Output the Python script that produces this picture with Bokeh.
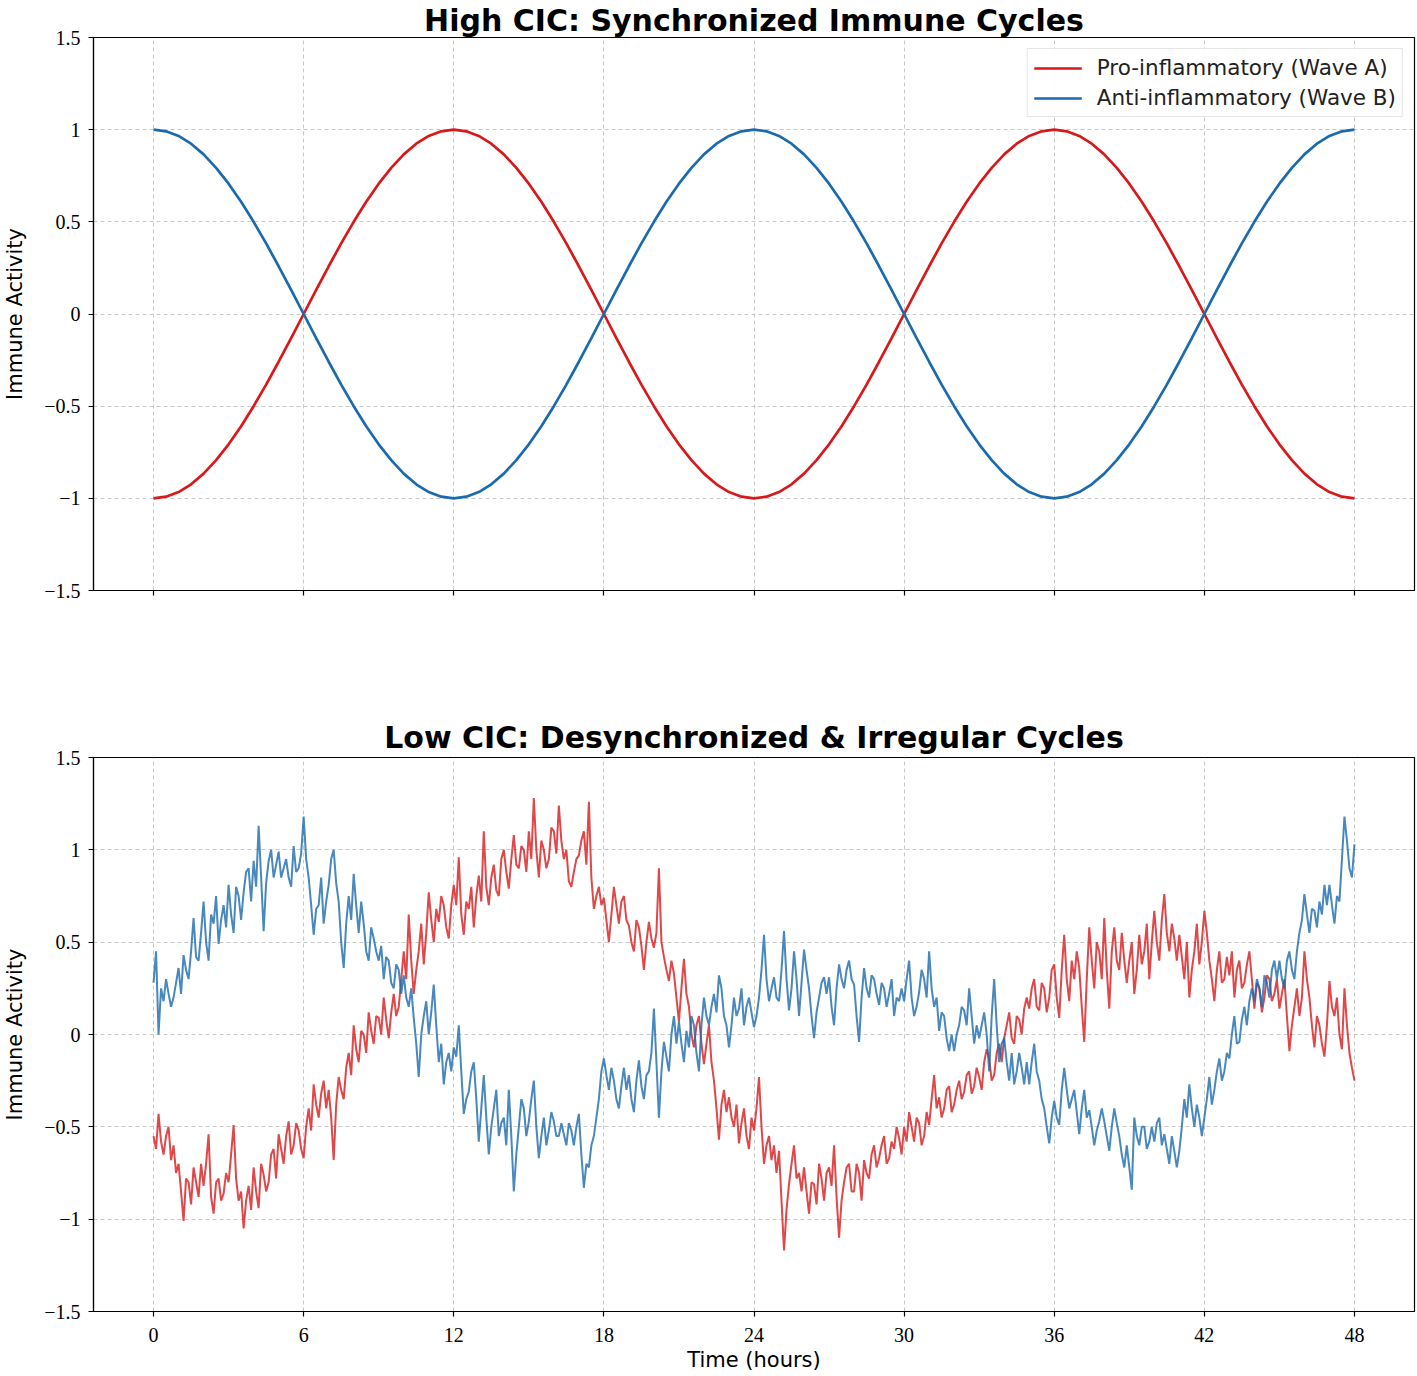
import numpy as np
from bokeh.plotting import figure
from bokeh.layouts import column
from bokeh.models import FixedTicker, Range1d, Legend, LegendItem
from bokeh.embed import file_html
from bokeh.resources import INLINE

# ---------------- data ----------------
x_ticks = [0, 6, 12, 18, 24, 30, 36, 42, 48]
y_ticks = [-1.5, -1.0, -0.5, 0.0, 0.5, 1.0, 1.5]
y_tick_labels = {-1.5: "\u22121.5", -1.0: "\u22121", -0.5: "\u22120.5", 0.0: "0",
                 0.5: "0.5", 1.0: "1", 1.5: "1.5"}

title_top = "High CIC: Synchronized Immune Cycles"
title_bottom = "Low CIC: Desynchronized & Irregular Cycles"
label_a = "Pro-inflammatory (Wave A)"
label_b = "Anti-inflammatory (Wave B)"

# top panel: values every 0.5 h from 0 to 48 h
hours_smooth = np.linspace(0, 48, 97)
wave_a_sync = [
    -1.0, -0.991, -0.966, -0.924, -0.866, -0.793, -0.707, -0.609, -0.5, -0.383, -0.259, -0.131,
    0.0, 0.131, 0.259, 0.383, 0.5, 0.609, 0.707, 0.793, 0.866, 0.924, 0.966, 0.991,
    1.0, 0.991, 0.966, 0.924, 0.866, 0.793, 0.707, 0.609, 0.5, 0.383, 0.259, 0.131,
    0.0, -0.131, -0.259, -0.383, -0.5, -0.609, -0.707, -0.793, -0.866, -0.924, -0.966, -0.991,
    -1.0, -0.991, -0.966, -0.924, -0.866, -0.793, -0.707, -0.609, -0.5, -0.383, -0.259, -0.131,
    0.0, 0.131, 0.259, 0.383, 0.5, 0.609, 0.707, 0.793, 0.866, 0.924, 0.966, 0.991,
    1.0, 0.991, 0.966, 0.924, 0.866, 0.793, 0.707, 0.609, 0.5, 0.383, 0.259, 0.131,
    0.0, -0.131, -0.259, -0.383, -0.5, -0.609, -0.707, -0.793, -0.866, -0.924, -0.966, -0.991,
    -1.0,
]
wave_b_sync = [
    1.0, 0.991, 0.966, 0.924, 0.866, 0.793, 0.707, 0.609, 0.5, 0.383, 0.259, 0.131,
    0.0, -0.131, -0.259, -0.383, -0.5, -0.609, -0.707, -0.793, -0.866, -0.924, -0.966, -0.991,
    -1.0, -0.991, -0.966, -0.924, -0.866, -0.793, -0.707, -0.609, -0.5, -0.383, -0.259, -0.131,
    0.0, 0.131, 0.259, 0.383, 0.5, 0.609, 0.707, 0.793, 0.866, 0.924, 0.966, 0.991,
    1.0, 0.991, 0.966, 0.924, 0.866, 0.793, 0.707, 0.609, 0.5, 0.383, 0.259, 0.131,
    0.0, -0.131, -0.259, -0.383, -0.5, -0.609, -0.707, -0.793, -0.866, -0.924, -0.966, -0.991,
    -1.0, -0.991, -0.966, -0.924, -0.866, -0.793, -0.707, -0.609, -0.5, -0.383, -0.259, -0.131,
    0.0, 0.131, 0.259, 0.383, 0.5, 0.609, 0.707, 0.793, 0.866, 0.924, 0.966, 0.991,
    1.0,
]

# bottom panel: values every 0.1 h from 0 to 48 h (one row per hour)
hours_noisy = np.linspace(0, 48, 481)
wave_a_noisy = [
    -0.55, -0.62, -0.43, -0.58, -0.65, -0.55, -0.50, -0.68, -0.60, -0.75,
    -0.70, -0.85, -1.01, -0.78, -0.80, -0.92, -0.72, -0.80, -0.88, -0.70,
    -0.82, -0.70, -0.54, -0.88, -0.97, -0.80, -0.78, -0.90, -0.86, -0.75,
    -0.80, -0.65, -0.49, -0.78, -0.90, -0.85, -1.05, -0.90, -0.82, -0.95,
    -0.72, -0.85, -0.94, -0.70, -0.76, -0.85, -0.80, -0.65, -0.62, -0.78,
    -0.54, -0.62, -0.70, -0.55, -0.47, -0.65, -0.60, -0.48, -0.52, -0.62,
    -0.67, -0.50, -0.40, -0.52, -0.27, -0.38, -0.45, -0.32, -0.25, -0.40,
    -0.30, -0.45, -0.68, -0.38, -0.23, -0.30, -0.35, -0.18, -0.10, -0.22,
    0.05, -0.08, -0.15, 0.02, 0.00, -0.10, 0.12, 0.02, -0.05, 0.10,
    0.09, 0.00, 0.20, 0.08, -0.02, 0.12, 0.22, 0.10, 0.15, 0.30,
    0.45, 0.30, 0.65, 0.40, 0.22, 0.35, 0.45, 0.60, 0.38, 0.55,
    0.77, 0.62, 0.50, 0.68, 0.61, 0.75, 0.70, 0.58, 0.52, 0.70,
    0.81, 0.70, 0.96, 0.65, 0.54, 0.72, 0.68, 0.80, 0.58, 0.75,
    0.86, 0.72, 1.10, 0.80, 0.70, 0.85, 0.92, 0.78, 0.75, 0.95,
    1.00, 0.88, 0.79, 0.95, 1.08, 0.92, 0.90, 1.02, 1.00, 0.88,
    1.10, 0.95, 1.28, 1.00, 0.85, 1.05, 1.00, 0.90, 0.95, 1.12,
    1.10, 0.98, 1.24, 1.05, 0.95, 1.00, 0.83, 0.80, 0.88, 0.95,
    0.97, 1.05, 1.10, 0.92, 1.26, 0.85, 0.68, 0.75, 0.80, 0.70,
    0.74, 0.62, 0.50, 0.65, 0.80, 0.70, 0.60, 0.72, 0.75, 0.62,
    0.59, 0.50, 0.45, 0.62, 0.58, 0.48, 0.35, 0.50, 0.61, 0.52,
    0.47, 0.55, 0.90, 0.50, 0.42, 0.35, 0.29, 0.40, 0.33, 0.20,
    0.07, 0.25, 0.41, 0.22, 0.15, 0.00, -0.07, 0.05, 0.10, -0.05,
    -0.16, -0.05, 0.05, -0.15, -0.25, -0.40, -0.57, -0.38, -0.30, -0.42,
    -0.34, -0.45, -0.50, -0.38, -0.59, -0.48, -0.40, -0.55, -0.62, -0.45,
    -0.52, -0.40, -0.23, -0.50, -0.70, -0.60, -0.55, -0.68, -0.60, -0.75,
    -0.63, -0.90, -1.17, -0.95, -0.81, -0.70, -0.60, -0.78, -0.75, -0.85,
    -0.72, -0.85, -0.97, -0.80, -0.81, -0.92, -0.70, -0.78, -0.90, -0.75,
    -0.72, -0.82, -0.60, -0.88, -1.10, -0.90, -0.80, -0.72, -0.70, -0.85,
    -0.85, -0.70, -0.75, -0.90, -0.68, -0.75, -0.78, -0.65, -0.60, -0.72,
    -0.67, -0.60, -0.55, -0.70, -0.67, -0.58, -0.62, -0.50, -0.56, -0.65,
    -0.50, -0.58, -0.42, -0.50, -0.58, -0.45, -0.48, -0.60, -0.55, -0.42,
    -0.49, -0.35, -0.22, -0.40, -0.34, -0.45, -0.40, -0.30, -0.28, -0.42,
    -0.38, -0.30, -0.25, -0.35, -0.31, -0.22, -0.20, -0.32, -0.28, -0.18,
    -0.23, -0.30, -0.15, -0.08, -0.13, -0.25, -0.22, -0.10, -0.05, -0.15,
    -0.02, 0.05, 0.12, -0.02, -0.05, 0.10, 0.08, 0.00, 0.14, 0.20,
    0.14, 0.25, 0.30, 0.15, 0.13, 0.28, 0.25, 0.12, 0.20, 0.35,
    0.38, 0.20, 0.09, 0.35, 0.54, 0.30, 0.18, 0.40, 0.30, 0.45,
    0.36, 0.15, -0.04, 0.30, 0.58, 0.40, 0.25, 0.50, 0.45, 0.30,
    0.63, 0.35, 0.14, 0.45, 0.58, 0.40, 0.35, 0.55, 0.40, 0.28,
    0.40, 0.50, 0.22, 0.35, 0.54, 0.38, 0.45, 0.60, 0.30, 0.50,
    0.67, 0.50, 0.40, 0.62, 0.76, 0.55, 0.45, 0.60, 0.52, 0.40,
    0.54, 0.42, 0.30, 0.50, 0.20, 0.35, 0.45, 0.60, 0.38, 0.50,
    0.67, 0.55, 0.40, 0.30, 0.18, 0.35, 0.45, 0.28, 0.30, 0.42,
    0.32, 0.45, 0.20, 0.35, 0.40, 0.25, 0.28, 0.38, 0.45, 0.30,
    0.14, 0.28, 0.25, 0.12, 0.20, 0.32, 0.30, 0.18, 0.22, 0.30,
    0.14, 0.22, 0.30, 0.10, -0.09, 0.05, 0.15, 0.25, 0.10, 0.20,
    0.45, 0.30, 0.20, 0.05, -0.07, 0.10, 0.05, -0.05, -0.12, 0.05,
    0.29, 0.15, 0.10, 0.20, 0.00, -0.08, 0.25, 0.05, -0.10, -0.18,
    -0.25,
]
wave_b_noisy = [
    0.28, 0.45, 0.00, 0.25, 0.18, 0.30, 0.22, 0.15, 0.20, 0.28,
    0.36, 0.22, 0.43, 0.35, 0.30, 0.45, 0.63, 0.42, 0.40, 0.55,
    0.72, 0.50, 0.40, 0.65, 0.60, 0.75, 0.49, 0.62, 0.70, 0.58,
    0.81, 0.65, 0.55, 0.80, 0.75, 0.62, 0.77, 0.88, 0.90, 0.72,
    0.94, 0.80, 1.13, 0.85, 0.56, 0.82, 0.94, 1.00, 0.85, 0.92,
    0.99, 0.85, 0.90, 0.95, 0.85, 0.80, 1.02, 0.88, 0.90, 0.98,
    1.18, 0.95, 0.85, 0.70, 0.54, 0.68, 0.70, 0.85, 0.60, 0.72,
    0.81, 0.95, 1.00, 0.82, 0.72, 0.50, 0.36, 0.60, 0.75, 0.62,
    0.87, 0.70, 0.55, 0.72, 0.60, 0.45, 0.40, 0.58, 0.52, 0.45,
    0.40, 0.48, 0.30, 0.42, 0.40, 0.28, 0.25, 0.38, 0.35, 0.22,
    0.32, 0.20, 0.15, 0.25, 0.09, -0.05, -0.23, 0.00, 0.10, 0.18,
    0.00, 0.12, 0.27, 0.05, -0.15, -0.05, -0.27, -0.15, -0.10, -0.20,
    -0.07, -0.12, 0.05, -0.20, -0.43, -0.35, -0.31, -0.20, -0.15, -0.35,
    -0.58, -0.40, -0.22, -0.45, -0.65, -0.50, -0.40, -0.30, -0.55, -0.48,
    -0.45, -0.60, -0.30, -0.55, -0.85, -0.65, -0.50, -0.35, -0.40, -0.55,
    -0.47, -0.35, -0.25, -0.50, -0.67, -0.55, -0.45, -0.60, -0.52, -0.42,
    -0.47, -0.55, -0.55, -0.48, -0.54, -0.60, -0.48, -0.52, -0.60, -0.50,
    -0.43, -0.65, -0.83, -0.70, -0.72, -0.60, -0.55, -0.45, -0.35, -0.20,
    -0.13, -0.22, -0.30, -0.18, -0.25, -0.35, -0.40, -0.28, -0.18, -0.30,
    -0.22, -0.35, -0.42, -0.25, -0.14, -0.28, -0.35, -0.22, -0.20, -0.10,
    0.14, -0.15, -0.45, -0.20, -0.04, -0.12, -0.20, 0.00, 0.10, -0.05,
    0.07, -0.05, -0.15, 0.02, -0.07, 0.10, 0.05, -0.10, -0.20, 0.05,
    0.20, 0.10, 0.05, 0.15, 0.22, 0.12, 0.32, 0.25, 0.10, 0.05,
    -0.07, 0.05, 0.20, 0.10, 0.14, 0.25, 0.05, 0.15, 0.20, 0.12,
    0.04, 0.10, 0.20, 0.35, 0.54, 0.30, 0.18, 0.25, 0.31, 0.20,
    0.18, 0.35, 0.56, 0.30, 0.13, 0.25, 0.45, 0.30, 0.10, 0.28,
    0.46, 0.35, 0.25, 0.10, -0.02, 0.12, 0.20, 0.28, 0.31, 0.22,
    0.31, 0.15, 0.05, 0.25, 0.38, 0.30, 0.25, 0.35, 0.40, 0.30,
    0.27, 0.10, -0.04, 0.20, 0.36, 0.25, 0.20, 0.32, 0.30, 0.22,
    0.16, 0.28, 0.25, 0.15, 0.22, 0.30, 0.10, 0.20, 0.18, 0.25,
    0.18, 0.30, 0.40, 0.20, 0.10, 0.15, 0.23, 0.35, 0.30, 0.20,
    0.45, 0.25, 0.15, 0.20, 0.02, 0.12, 0.10, -0.02, -0.09, 0.00,
    -0.09, 0.00, 0.05, 0.15, 0.13, 0.05, 0.25, 0.10, -0.05, 0.05,
    -0.02, 0.05, 0.12, 0.00, -0.20, 0.10, 0.30, 0.05, -0.15, -0.05,
    -0.02, -0.15, -0.25, -0.10, -0.27, -0.20, -0.10, -0.18, -0.27, -0.15,
    -0.27, -0.15, -0.05, -0.20, -0.25, -0.35, -0.40, -0.50, -0.59, -0.45,
    -0.36, -0.45, -0.49, -0.30, -0.18, -0.30, -0.40, -0.35, -0.30, -0.42,
    -0.54, -0.40, -0.30, -0.45, -0.41, -0.50, -0.60, -0.52, -0.47, -0.40,
    -0.47, -0.55, -0.63, -0.50, -0.40, -0.48, -0.55, -0.65, -0.72, -0.60,
    -0.72, -0.84, -0.45, -0.55, -0.60, -0.50, -0.50, -0.62, -0.58, -0.50,
    -0.58, -0.48, -0.45, -0.60, -0.54, -0.62, -0.70, -0.55, -0.63, -0.72,
    -0.63, -0.50, -0.35, -0.45, -0.27, -0.40, -0.50, -0.38, -0.45, -0.55,
    -0.45, -0.35, -0.23, -0.38, -0.30, -0.20, -0.13, -0.25, -0.20, -0.10,
    -0.13, 0.00, 0.10, -0.05, -0.04, 0.08, 0.15, 0.05, 0.18, 0.25,
    0.18, 0.30, 0.25, 0.15, 0.32, 0.28, 0.20, 0.35, 0.40, 0.30,
    0.40, 0.30, 0.25, 0.40, 0.45, 0.35, 0.30, 0.45, 0.55, 0.62,
    0.76, 0.65, 0.55, 0.68, 0.67, 0.58, 0.72, 0.65, 0.81, 0.70,
    0.81, 0.70, 0.60, 0.75, 0.72, 0.95, 1.18, 1.05, 0.90, 0.85,
    1.03,
]

RED = "#d7191c"
BLUE = "#1a6aad"
TICK_FONT = "Liberation Serif"
SANS = "DejaVu Sans"


def style(p, show_xlabels):
    p.x_range = Range1d(-2.4, 50.4)
    p.y_range = Range1d(-1.5, 1.5)
    p.outline_line_color = "black"
    p.outline_line_width = 1.2
    p.background_fill_color = "white"
    p.border_fill_color = "white"
    p.xaxis.ticker = FixedTicker(ticks=x_ticks)
    p.yaxis.ticker = FixedTicker(ticks=y_ticks)
    p.yaxis.major_label_overrides = y_tick_labels
    for g in (p.xgrid, p.ygrid):
        g.grid_line_color = "#c8c8c8"
        g.grid_line_dash = "4 3"
        g.grid_line_width = 1
    for ax in (p.xaxis, p.yaxis):
        ax.minor_tick_line_color = None
        ax.major_tick_in = 0
        ax.major_tick_out = 5
        ax.major_tick_line_color = "black"
        ax.major_tick_line_width = 1.2
        ax.axis_line_color = "black"
        ax.axis_line_width = 1.2
        ax.major_label_text_font = TICK_FONT
        ax.major_label_text_font_size = "20px"
        ax.major_label_text_color = "black"
        ax.axis_label_text_font = SANS
        ax.axis_label_text_font_style = "normal"
        ax.axis_label_text_font_size = "21px"
        ax.axis_label_text_color = "black"
    p.yaxis.major_label_standoff = 8
    p.yaxis.axis_label = "Immune Activity"
    p.yaxis.axis_label_standoff = 14
    if show_xlabels:
        p.xaxis.major_label_standoff = 11
        p.xaxis.axis_label = "Time (hours)"
        p.xaxis.axis_label_standoff = 3
    else:
        p.xaxis.major_label_overrides = {t: "" for t in x_ticks}
        p.xaxis.major_label_standoff = 0
    p.title.text_font = SANS
    p.title.text_font_style = "bold"
    p.title.text_font_size = "30px"
    p.title.align = "center"
    p.title.text_color = "black"


p1 = figure(width=1417, height=630, output_backend="svg", toolbar_location=None,
            title=title_top, min_border_left=90, min_border_right=3,
            min_border_top=36, min_border_bottom=40)
style(p1, False)
p1.title.standoff = 0
p1.title.text_line_height = 0.8
r_a = p1.line(hours_smooth, wave_a_sync, line_color=RED, line_width=2.7)
r_b = p1.line(hours_smooth, wave_b_sync, line_color=BLUE, line_width=2.7)
legend = Legend(items=[LegendItem(label=label_a, renderers=[r_a]),
                       LegendItem(label=label_b, renderers=[r_b])],
                location="top_right")
legend.label_text_font = SANS
legend.label_text_font_size = "21.5px"
legend.label_text_color = "#222222"
legend.glyph_width = 48
legend.glyph_height = 20
legend.label_height = 20
legend.label_standoff = 15
legend.spacing = 5
legend.padding = 6
legend.margin = 11
legend.border_line_color = "#cccccc"
legend.border_line_width = 1
legend.background_fill_alpha = 0.9
p1.add_layout(legend)

p2 = figure(width=1417, height=745, output_backend="svg", toolbar_location=None,
            title=title_bottom, min_border_left=90, min_border_right=3,
            min_border_top=127, min_border_bottom=64)
style(p2, True)
p2.title.standoff = 6
p2.line(hours_noisy, wave_a_noisy, line_color=RED, line_alpha=0.8, line_width=2.0)
p2.line(hours_noisy, wave_b_noisy, line_color=BLUE, line_alpha=0.8, line_width=2.0)

layout = column(p1, p2, spacing=0)
open("out.html", "w").write(file_html(layout, INLINE))
